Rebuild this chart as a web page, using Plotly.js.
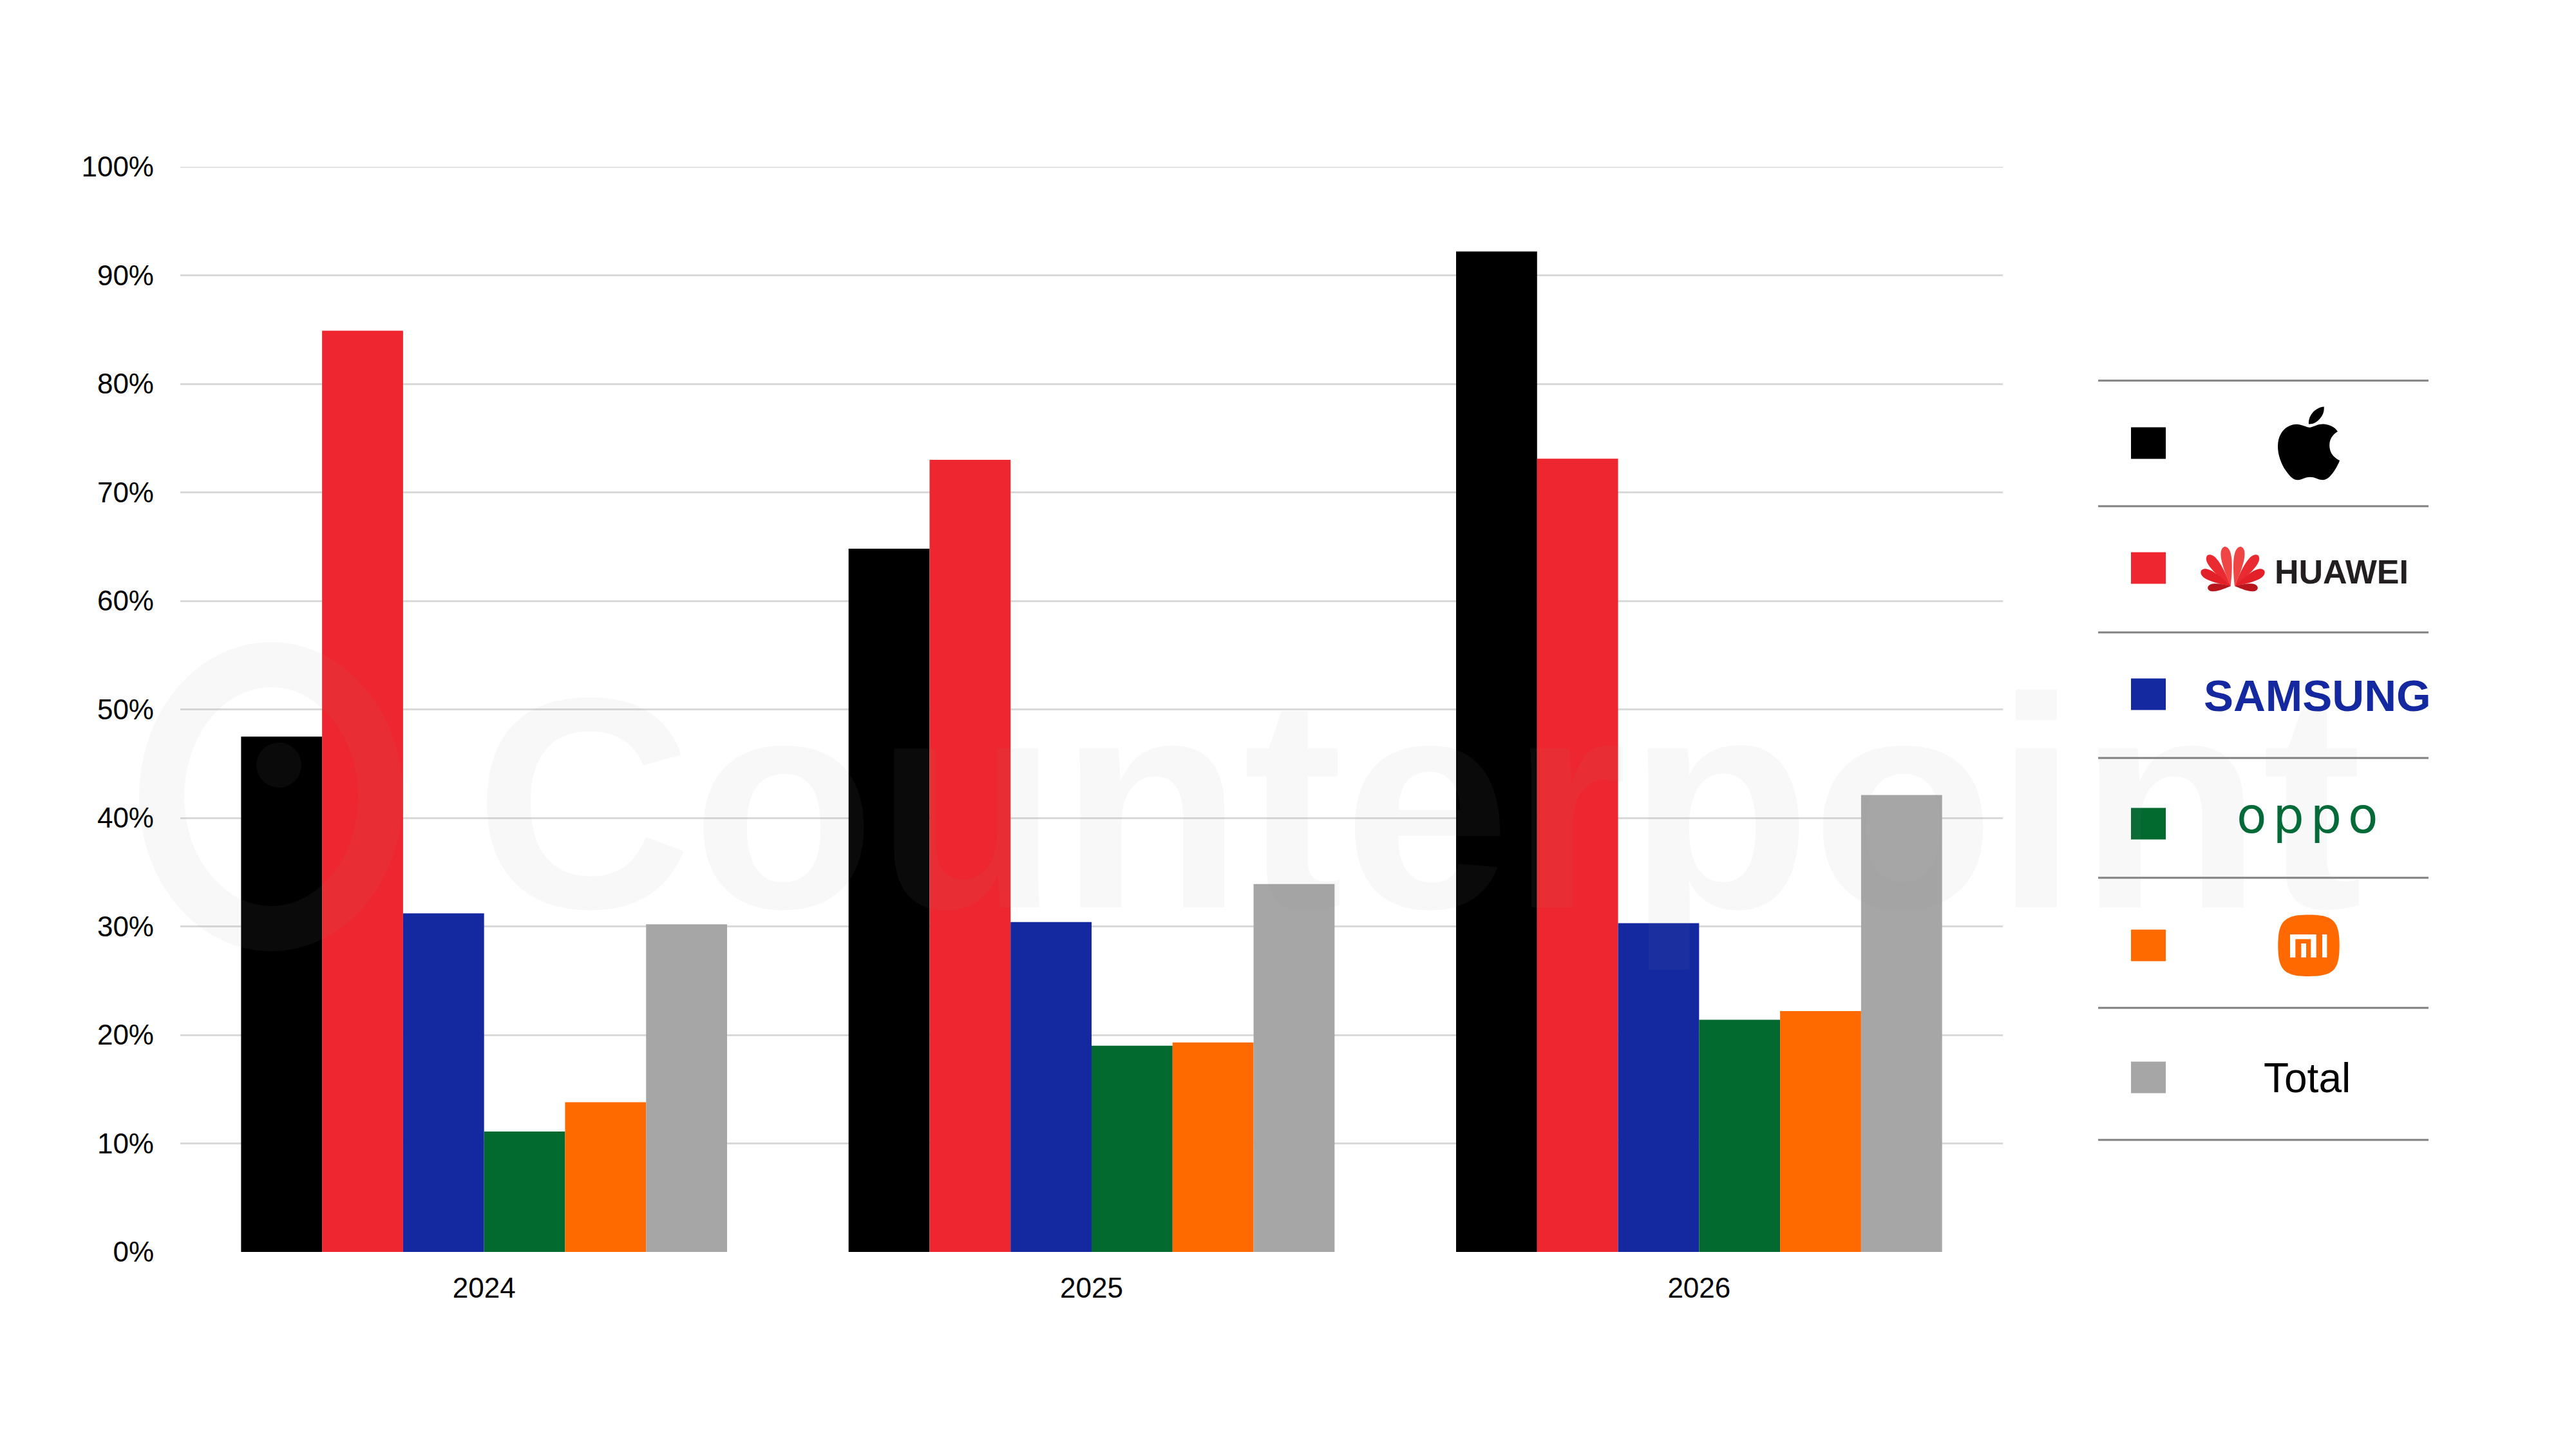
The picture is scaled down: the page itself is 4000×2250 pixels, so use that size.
<!DOCTYPE html>
<html><head><meta charset="utf-8">
<script src="https://cdn.plot.ly/plotly-3.0.1.min.js"></script>
<style>html,body{margin:0;padding:0;background:#fff}#chart{width:4000px;height:2250px}</style>
</head><body><div id="chart"></div>
<script>
// ---------- data ----------
const years = ['2024', '2025', '2026'];
const brands = ['Apple', 'Huawei', 'Samsung', 'OPPO', 'Xiaomi', 'Total'];
const apple   = [47.5, 64.8, 92.2];
const huawei  = [84.9, 73.0, 73.1];
const samsung = [31.2, 30.4, 30.3];
const oppo    = [11.1, 19.0, 21.4];
const xiaomi  = [13.8, 19.3, 22.2];
const total   = [30.2, 33.9, 42.1];
const seriesValues = [apple, huawei, samsung, oppo, xiaomi, total];
const colors = ['#000000', '#ee262f', '#1428a0', '#02692f', '#ff6a00', '#a6a6a6'];
const yTickVals = [0, 10, 20, 30, 40, 50, 60, 70, 80, 90, 100];
const yTickText = ['0%', '10%', '20%', '30%', '40%', '50%', '60%', '70%', '80%', '90%', '100%'];

// ---------- geometry helpers ----------
const W = 4000, H = 2250, ML = 280, MR = 890, MT = 259, MB = 306;
const PW = W - ML - MR, PH = H - MT - MB;
const px = x => (x - ML) / PW;
const py = y => 1 - (y - MT) / PH;
const f = v => v.toFixed(6);
const P = (x, y) => f(px(x)) + ',' + f(py(y));

// parse an SVG path (abs/rel) into absolute segments
function absSegments(d) {
  const toks = d.match(/[a-zA-Z]|-?(?:\d+\.?\d*|\.\d+)(?:e[-+]?\d+)?/g);
  let i = 0, cmd = '', cx = 0, cy = 0, sx = 0, sy = 0, lc = null;
  const out = [];
  const n = () => parseFloat(toks[i++]);
  let guard = 0;
  while (i < toks.length && guard++ < 100000) {
    if (/[a-zA-Z]/.test(toks[i])) cmd = toks[i++];
    const rel = cmd === cmd.toLowerCase();
    const C = cmd.toUpperCase();
    if (C === 'Z') { out.push(['Z']); cx = sx; cy = sy; lc = null; continue; }
    if (C === 'M') {
      let x = n(), y = n(); if (rel) { x += cx; y += cy; }
      out.push(['M', x, y]); cx = sx = x; cy = sy = y; cmd = rel ? 'l' : 'L'; lc = null;
    } else if (C === 'L') {
      let x = n(), y = n(); if (rel) { x += cx; y += cy; }
      out.push(['L', x, y]); cx = x; cy = y; lc = null;
    } else if (C === 'H') {
      let x = n(); if (rel) x += cx; out.push(['L', x, cy]); cx = x; lc = null;
    } else if (C === 'V') {
      let y = n(); if (rel) y += cy; out.push(['L', cx, y]); cy = y; lc = null;
    } else if (C === 'C') {
      let a = [n(), n(), n(), n(), n(), n()];
      if (rel) { a = a.map((v, k) => v + (k % 2 ? cy : cx)); }
      out.push(['C', ...a]); lc = [a[2], a[3]]; cx = a[4]; cy = a[5];
    } else if (C === 'S') {
      let a = [n(), n(), n(), n()];
      if (rel) { a = a.map((v, k) => v + (k % 2 ? cy : cx)); }
      const x1 = lc ? 2 * cx - lc[0] : cx, y1 = lc ? 2 * cy - lc[1] : cy;
      out.push(['C', x1, y1, ...a]); lc = [a[0], a[1]]; cx = a[2]; cy = a[3];
    } else if (C === 'Q') {
      let a = [n(), n(), n(), n()];
      if (rel) { a = a.map((v, k) => v + (k % 2 ? cy : cx)); }
      out.push(['Q', ...a]); lc = null; cx = a[2]; cy = a[3];
    } else { i++; }
  }
  return out;
}
// fit segments into a pixel box and convert to paper path
function fitPath(d, x0, y0, x1, y1) {
  const segs = absSegments(d);
  let bx0 = Infinity, by0 = Infinity, bx1 = -Infinity, by1 = -Infinity;
  segs.forEach(s => { for (let k = 1; k < s.length; k += 2) {
    bx0 = Math.min(bx0, s[k]); bx1 = Math.max(bx1, s[k]);
    by0 = Math.min(by0, s[k + 1]); by1 = Math.max(by1, s[k + 1]); } });
  const sc = Math.min((x1 - x0) / (bx1 - bx0), (y1 - y0) / (by1 - by0));
  const ox = (x0 + x1) / 2 - sc * (bx0 + bx1) / 2, oy = (y0 + y1) / 2 - sc * (by0 + by1) / 2;
  return segs.map(s => {
    if (s[0] === 'Z') return 'Z';
    const pts = [];
    for (let k = 1; k < s.length; k += 2) pts.push(P(ox + sc * s[k], oy + sc * s[k + 1]));
    return s[0] + pts.join(' ');
  }).join(' ');
}

const applePath = 'm150.37 130.25c-2.45 5.66-5.35 10.87-8.71 15.66-4.58 6.53-8.33 11.05-11.22 13.56-4.48 4.12-9.28 6.23-14.42 6.35-3.69 0-8.14-1.05-13.32-3.18-5.197-2.12-9.973-3.17-14.34-3.17-4.58 0-9.492 1.05-14.746 3.17-5.262 2.13-9.501 3.24-12.742 3.35-4.929 0.21-9.842-1.96-14.746-6.52-3.13-2.73-7.045-7.41-11.735-14.04-5.032-7.08-9.169-15.29-12.41-24.65-3.471-10.11-5.211-19.9-5.211-29.378 0-10.857 2.346-20.221 7.045-28.068 3.693-6.303 8.606-11.275 14.755-14.925s13.257-5.51 20.33-5.629c3.915 0 9.049 1.211 15.429 3.591 6.362 2.388 10.447 3.599 12.238 3.599 1.339 0 5.877-1.416 13.57-4.239 7.275-2.618 13.415-3.702 18.445-3.275 13.63 1.1 23.87 6.473 30.68 16.153-12.19 7.386-18.22 17.731-18.1 31.002 0.11 10.337 3.86 18.939 11.23 25.769 3.34 3.17 7.07 5.62 11.22 7.36-0.9 2.61-1.85 5.11-2.86 7.51zm-31.26-123.01c0 8.1021-2.96 15.667-8.86 22.669-7.12 8.324-15.732 13.134-25.071 12.375-0.119-0.972-0.188-1.995-0.188-3.07 0-7.778 3.386-16.102 9.399-22.908 3.002-3.446 6.82-6.311 11.45-8.597 4.62-2.252 8.99-3.497 13.1-3.71 0.12 1.083 0.17 2.166 0.17 3.24z';

function petal(bx, by, angDeg, L, w) {
  const a = angDeg * Math.PI / 180;
  const dx = Math.sin(a), dy = -Math.cos(a), nx = Math.cos(a), ny = Math.sin(a);
  const pt = (u, t) => P(bx + t * dx + u * nx, by + t * dy + u * ny);
  return 'M' + pt(0, 0) +
    ' C' + pt(0.2 * w, 0.2 * L) + ' ' + pt(1.1 * w, 0.95 * L) + ' ' + pt(0, L) +
    ' C' + pt(-1.1 * w, 0.95 * L) + ' ' + pt(-0.2 * w, 0.2 * L) + ' ' + pt(0, 0) + ' Z';
}

function rectShape(x0, y0, x1, y1, color, layer) {
  return { type: 'rect', xref: 'paper', yref: 'paper', x0: px(x0), x1: px(x1), y0: py(y1), y1: py(y0),
    fillcolor: color, line: { width: 0 }, layer: layer || 'above' };
}
function lineShape(x0, y0, x1, y1, color, width) {
  return { type: 'line', xref: 'paper', yref: 'paper', x0: px(x0), x1: px(x1), y0: py(y0), y1: py(y1),
    line: { color: color, width: width }, layer: 'above' };
}
function pathShape(path, color) {
  return { type: 'path', xref: 'paper', yref: 'paper', path: path, fillcolor: color, line: { width: 0 }, layer: 'above' };
}

// ---------- traces ----------
const traces = brands.map((b, k) => ({
  type: 'bar', name: b, x: years, y: seriesValues[k],
  marker: { color: colors[k], line: { width: 0 } }, showlegend: false,
  hovertemplate: b + ' %{x}: %{y:.1f}%<extra></extra>'
}));

const shapes = [];
// top (100%) gridline, drawn at the axis value
shapes.push({ type: 'line', xref: 'paper', yref: 'y', x0: 0, x1: 1, y0: 100, y1: 100,
  line: { color: '#d9d9d9', width: 3 }, layer: 'below' });

const wm = 'rgba(150,150,150,0.067)';
// watermark ring + dot
shapes.push({ type: 'circle', xref: 'paper', yref: 'paper', x0: px(421 - 170), x1: px(421 + 170),
  y0: py(1237 + 205), y1: py(1237 - 205), line: { color: wm, width: 70 }, fillcolor: 'rgba(0,0,0,0)', layer: 'above' });
shapes.push({ type: 'circle', xref: 'paper', yref: 'paper', x0: px(433 - 35), x1: px(433 + 35),
  y0: py(1188 + 35), y1: py(1188 - 35), line: { width: 0 }, fillcolor: wm, layer: 'above' });

// ---------- legend panel ----------
const sepY = [591, 786, 982, 1177, 1363, 1565, 1770];
sepY.forEach(y => shapes.push(lineShape(3258, y, 3771, y, '#808080', 3)));
const rowCY = [688, 882, 1078, 1279, 1468, 1673];
rowCY.forEach((cy, k) => shapes.push(rectShape(3309, cy - 24.5, 3363, cy + 24.5, colors[k])));

// Apple logo
shapes.push(pathShape(fitPath(applePath, 3537, 631, 3633, 746), '#000000'));

// Huawei flower
const petals = [
  [9, 62, 15, '#f04545'], [37, 60, 15, '#ea2a31'], [63, 52, 14, '#e31f27'], [95, 36, 11, '#b9151c']
];
petals.forEach(p => {
  shapes.push(pathShape(petal(3470, 910, p[0], p[1], p[2]), p[3]));
  shapes.push(pathShape(petal(3464, 910, -p[0], p[1], p[2]), p[3]));
});

// Xiaomi logo
(function () {
  const cx = 3585, cy = 1468.3, a = 47.7, k = 0.8 * a;
  const d = 'M' + P(cx, cy - a) +
    ' C' + P(cx + k, cy - a) + ' ' + P(cx + a, cy - k) + ' ' + P(cx + a, cy) +
    ' C' + P(cx + a, cy + k) + ' ' + P(cx + k, cy + a) + ' ' + P(cx, cy + a) +
    ' C' + P(cx - k, cy + a) + ' ' + P(cx - a, cy + k) + ' ' + P(cx - a, cy) +
    ' C' + P(cx - a, cy - k) + ' ' + P(cx - k, cy - a) + ' ' + P(cx, cy - a) + ' Z';
  shapes.push(pathShape(d, '#ff6900'));
  shapes.push(rectShape(3556, 1451, 3596.7, 1486.7, '#ffffff'));
  shapes.push(rectShape(3564.3, 1458.3, 3588.3, 1487, '#ff6900'));
  shapes.push(rectShape(3573.3, 1465, 3581, 1486.7, '#ffffff'));
  shapes.push(rectShape(3606, 1451, 3613.3, 1486.7, '#ffffff'));
})();

const FONT = 'Liberation Sans, Arial, sans-serif';
const annotations = [
  { text: '<b>Counterpoint</b>', xref: 'paper', yref: 'paper', x: px(735), y: py(1248), xanchor: 'left', yanchor: 'middle',
    showarrow: false, font: { family: FONT, size: 467, color: wm } },
  { text: '<b>HUAWEI</b>', xref: 'paper', yref: 'paper', x: px(3530), y: py(888), xanchor: 'left', yanchor: 'middle',
    showarrow: false, font: { family: FONT, size: 52, color: '#231f20' } },
  { text: '<b>SAMSUNG</b>', xref: 'paper', yref: 'paper', x: px(3598), y: py(1080), xanchor: 'center', yanchor: 'middle',
    showarrow: false, font: { family: FONT, size: 69, color: '#1428a0' } },
  { text: '<span style="letter-spacing:10px">oppo</span>', xref: 'paper', yref: 'paper', x: px(3588), y: py(1266), xanchor: 'center', yanchor: 'middle',
    showarrow: false, font: { family: 'DejaVu Sans, sans-serif', size: 76, color: '#046a38' } },
  { text: 'Total', xref: 'paper', yref: 'paper', x: px(3582), y: py(1674), xanchor: 'center', yanchor: 'middle',
    showarrow: false, font: { family: FONT, size: 64, color: '#000000' } }
];

const layout = {
  width: W, height: H,
  margin: { l: ML, r: MR, t: MT, b: MB, pad: 0 },
  paper_bgcolor: '#ffffff', plot_bgcolor: '#ffffff',
  barmode: 'group', bargap: 0.2, bargroupgap: 0,
  showlegend: false,
  font: { family: FONT, color: '#000000' },
  xaxis: { type: 'category', showgrid: false, zeroline: false, showline: false, ticks: '',
    tickfont: { family: FONT, size: 44, color: '#000000' }, ticklabelstandoff: 26 },
  yaxis: { range: [0, 100], tickmode: 'array', tickvals: yTickVals, ticktext: yTickText,
    showgrid: true, gridcolor: '#d9d9d9', gridwidth: 3, zeroline: false, showline: false, ticks: '',
    tickfont: { family: FONT, size: 44, color: '#000000' }, ticklabelstandoff: 40, fixedrange: true },
  shapes: shapes,
  annotations: annotations
};

Plotly.newPlot('chart', traces, layout, { staticPlot: true, displayModeBar: false });
</script></body></html>
